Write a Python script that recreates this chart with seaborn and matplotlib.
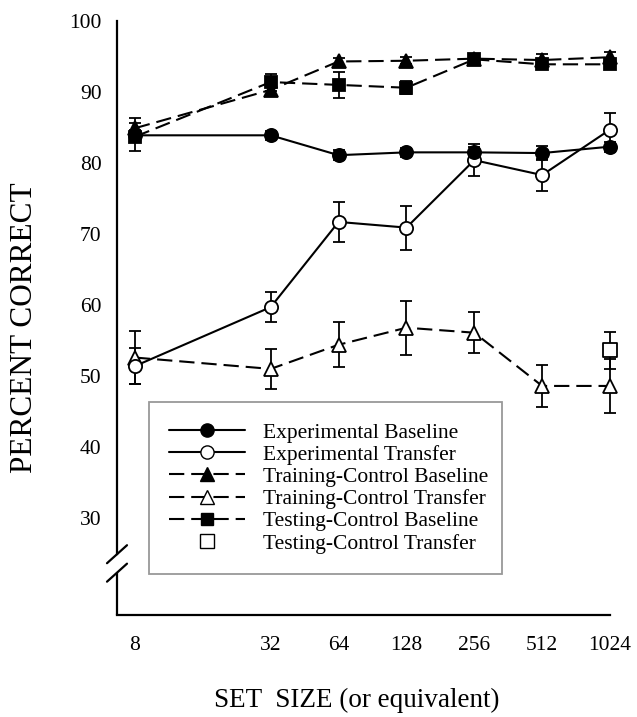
import numpy as np
import pandas as pd
import matplotlib
matplotlib.use("Agg")
import matplotlib.pyplot as plt
import matplotlib.transforms as mtransforms
from matplotlib.lines import Line2D
import seaborn as sns

# ---------------- data ----------------
set_sizes = [8, 32, 64, 128, 256, 512, 1024]
tick_labels = ["8", "32", "64", "128", "256", "512", "1024"]
y_ticks = [30, 40, 50, 60, 70, 80, 90, 100]

exp_baseline = [83.9, 83.9, 81.1, 81.5, 81.5, 81.4, 82.3]
exp_baseline_err = [0.8, 0.6, 0.7, 0.6, 0.8, 1.0, 0.7]

exp_transfer = [51.4, 59.7, 71.7, 70.9, 80.4, 78.3, 84.7]
exp_transfer_err = [2.5, 2.1, 2.8, 3.1, 2.3, 2.3, 2.4]

train_ctrl_baseline = [84.9, 90.3, 94.3, 94.4, 94.7, 94.5, 94.9]
train_ctrl_baseline_err = [1.5, 0.8, 0.5, 0.5, 0.5, 0.8, 0.8]

train_ctrl_transfer = [52.6, 51.0, 54.4, 56.8, 56.1, 48.6, 48.6]
train_ctrl_transfer_err = [3.7, 2.8, 3.2, 3.8, 2.9, 2.9, 3.8]

test_ctrl_baseline = [83.7, 91.4, 91.0, 90.6, 94.6, 93.9, 93.9]
test_ctrl_baseline_err = [2.0, 1.2, 1.8, 0.9, 0.5, 0.6, 0.6]

test_ctrl_transfer_x = [1024]
test_ctrl_transfer = [53.6]
test_ctrl_transfer_err = [2.6]

series_names = ["Experimental Baseline", "Experimental Transfer",
                "Training-Control Baseline", "Training-Control Transfer",
                "Testing-Control Baseline", "Testing-Control Transfer"]

# ---------------- style ----------------
sns.set_style("white")
plt.rcParams["font.family"] = ["Liberation Serif", "DejaVu Serif"]
plt.rcParams["lines.scale_dashes"] = False
plt.rcParams["text.color"] = "black"
plt.rcParams["axes.labelcolor"] = "black"
plt.rcParams["xtick.color"] = "black"
plt.rcParams["ytick.color"] = "black"

W, H = 637, 717
fig = plt.figure(figsize=(W / 100, H / 100), dpi=100)
ax_left, ax_right, ax_top, ax_bot = 117, 610, 21, 615
ax = fig.add_axes([ax_left / W, 1 - ax_bot / H, (ax_right - ax_left) / W, (ax_bot - ax_top) / H])

DASH = (11, 5)
LW = 1.5
MS = 9.5

def draw(x, y, err, name, marker, mfc, dashed, ms=MS, line=True):
    df = pd.DataFrame({"set_size": x, "pct": y})
    if line:
        kw = dict(dashes=DASH) if dashed else dict(linestyle="-")
        sns.lineplot(data=df, x="set_size", y="pct", ax=ax, color="black", lw=LW,
                     marker=marker, markersize=ms, markerfacecolor=mfc,
                     markeredgecolor="black", markeredgewidth=1.3,
                     zorder=4, clip_on=False, **kw)
    else:
        sns.scatterplot(data=df, x="set_size", y="pct", ax=ax, marker=marker,
                        s=(ms + 1) ** 2, facecolor=mfc, edgecolor="black",
                        linewidth=1.3, zorder=4, clip_on=False)
    ax.errorbar(x, y, yerr=err, fmt="none", ecolor="black", elinewidth=1.3,
                capsize=4, capthick=1.3, zorder=3, clip_on=False)

draw(set_sizes, train_ctrl_transfer, train_ctrl_transfer_err, series_names[3], "^", "white", True)
draw(set_sizes, exp_transfer, exp_transfer_err, series_names[1], "o", "white", False)
draw(set_sizes, exp_baseline, exp_baseline_err, series_names[0], "o", "black", False)
draw(set_sizes, test_ctrl_baseline, test_ctrl_baseline_err, series_names[4], "s", "black", True, ms=8)
draw(set_sizes, train_ctrl_baseline, train_ctrl_baseline_err, series_names[2], "^", "black", True)
draw(test_ctrl_transfer_x, test_ctrl_transfer, test_ctrl_transfer_err, series_names[5], "s", "white", False, ms=9, line=False)

# ---------------- axes ----------------
ybot = 30 - (ax_bot - 518) / 7.1
ax.set_xscale("log", base=2)
ax.set_xlim(2 ** (3 - 18 / 68), 1024)
ax.set_ylim(ybot, 100)
ax.set_xticks(set_sizes)
ax.set_xticklabels(tick_labels)
ax.xaxis.set_minor_locator(matplotlib.ticker.NullLocator())
ax.set_yticks(y_ticks)
ax.set_yticklabels([str(v) for v in y_ticks])
ax.tick_params(axis="both", direction="in", length=6, width=1.5, labelsize=15.5)
ax.tick_params(axis="y", pad=11)
ax.tick_params(axis="x", pad=15)

for s in ["top", "right"]:
    ax.spines[s].set_visible(False)
for s in ["left", "bottom"]:
    ax.spines[s].set_linewidth(1.6)
    ax.spines[s].set_color("black")

# axis break
brk_hi, brk_lo = 24.9, 22.3
ax.spines["left"].set_bounds(brk_hi, 100)
trans = mtransforms.blended_transform_factory(ax.transAxes, ax.transData)
ax.add_line(Line2D([0, 0], [ybot, brk_lo], transform=trans, color="black", lw=1.6, clip_on=False))
dx = 10 / (ax_right - ax_left)
dy = 9 / 7.1
for yc in (brk_hi, brk_lo):
    ax.add_line(Line2D([-dx, dx], [yc - dy, yc + dy], transform=trans, color="black",
                       lw=1.6, clip_on=False))

ax.set_xlabel("SET  SIZE (or equivalent)", fontsize=19.5, va="center")
ax.xaxis.set_label_coords((357 - ax_left) / (ax_right - ax_left), (ax_bot - 700) / (ax_bot - ax_top))
ax.set_ylabel("PERCENT CORRECT", fontsize=22.5, va="center")
ax.yaxis.set_label_coords((25 - ax_left) / (ax_right - ax_left), (ax_bot - 328) / (ax_bot - ax_top))

# ---------------- legend ----------------
handles = [
    Line2D([], [], color="black", lw=LW, marker="o", ms=MS, mfc="black", mec="black"),
    Line2D([], [], color="black", lw=LW, marker="o", ms=MS, mfc="white", mec="black"),
    Line2D([], [], color="black", lw=LW, dashes=DASH, marker="^", ms=MS, mfc="black", mec="black"),
    Line2D([], [], color="black", lw=LW, dashes=DASH, marker="^", ms=MS, mfc="white", mec="black"),
    Line2D([], [], color="black", lw=LW, dashes=DASH, marker="s", ms=8, mfc="black", mec="black"),
    Line2D([], [], color="black", lw=0, marker="s", ms=10, mfc="white", mec="black"),
]
leg = ax.legend(handles, series_names, loc="upper left",
                bbox_to_anchor=(149 / W, 1 - 574 / H, (502 - 149) / W, (574 - 402) / H),
                bbox_transform=fig.transFigure, mode="expand", borderaxespad=0,
                fontsize=15.5, frameon=True, fancybox=False, framealpha=1,
                edgecolor="#999999", borderpad=0.95, labelspacing=0.1,
                handlelength=3.5, handletextpad=0.85)
leg.get_frame().set_linewidth(1.3)
leg.set_zorder(1)

fig.savefig("out.png", dpi=100, facecolor="white")
